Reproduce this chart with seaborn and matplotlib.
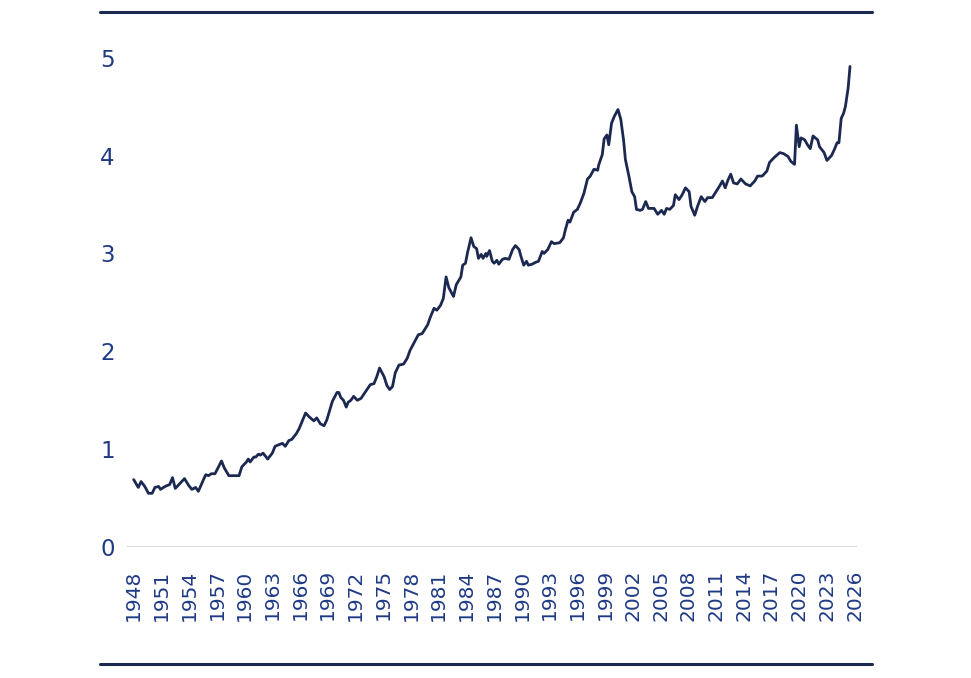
import matplotlib
matplotlib.use("Agg")
import matplotlib.pyplot as plt
import seaborn as sns
import pandas as pd
from matplotlib.lines import Line2D

sns.set_style("white")
plt.rcParams['font.family'] = ['DejaVu Sans']

# values (year, value)
years = [
    1948.0, 1948.5, 1948.8, 1949.2, 1949.6, 1950.0, 1950.3, 1950.7, 1950.9, 1951.4,
    1951.9, 1952.2, 1952.5, 1953.1, 1953.5, 1953.95, 1954.3, 1954.7, 1955.0, 1955.6,
    1955.8, 1956.1, 1956.4, 1956.8, 1957.5, 1957.8, 1958.3, 1959.0, 1959.4, 1959.7,
    1960.2, 1960.4, 1960.6, 1961.0, 1961.2, 1961.5, 1961.7, 1962.0, 1962.5, 1963.0,
    1963.3, 1963.8, 1964.1, 1964.4, 1964.8, 1965.1, 1965.6, 1965.9, 1966.3, 1966.6,
    1967.0, 1967.5, 1967.8, 1968.2, 1968.6, 1968.9, 1969.5, 1970.0, 1970.2, 1970.4,
    1970.7, 1971.0, 1971.2, 1971.5, 1971.8, 1972.2, 1972.6, 1973.1, 1973.6, 1974.0,
    1974.3, 1974.6, 1975.1, 1975.4, 1975.7, 1976.0, 1976.3, 1976.7, 1977.2, 1977.6,
    1977.9, 1978.4, 1978.8, 1979.2, 1979.8, 1980.1, 1980.5, 1980.8, 1981.2, 1981.5,
    1981.8, 1982.1, 1982.6, 1982.9, 1983.4, 1983.6, 1983.9, 1984.1, 1984.5, 1984.8,
    1985.1, 1985.3, 1985.6, 1985.8, 1986.1, 1986.2, 1986.5, 1986.8, 1987.0, 1987.3,
    1987.5, 1987.9, 1988.2, 1988.6, 1989.0, 1989.3, 1989.7, 1989.9, 1990.2, 1990.5,
    1990.7, 1991.1, 1991.5, 1991.8, 1992.2, 1992.4, 1992.8, 1993.2, 1993.5, 1994.1,
    1994.5, 1994.7, 1995.0, 1995.2, 1995.6, 1996.0, 1996.3, 1996.7, 1997.1, 1997.4,
    1997.8, 1998.2, 1998.3, 1998.7, 1998.9, 1999.2, 1999.4, 1999.7, 2000.0, 2000.4,
    2000.7, 2001.0, 2001.2, 2001.6, 2001.9, 2002.2, 2002.4, 2002.8, 2003.05, 2003.4,
    2003.7, 2004.3, 2004.7, 2005.1, 2005.4, 2005.65, 2006.0, 2006.4, 2006.6, 2007.0,
    2007.35, 2007.7, 2008.1, 2008.3, 2008.7, 2009.0, 2009.4, 2009.8, 2010.1, 2010.6,
    2011.0, 2011.4, 2011.7, 2012.0, 2012.3, 2012.6, 2012.9, 2013.3, 2013.7, 2014.2,
    2014.7, 2015.2, 2015.5, 2016.0, 2016.5, 2016.8, 2017.3, 2017.9, 2018.3, 2018.8,
    2019.1, 2019.5, 2019.7, 2020.0, 2020.2, 2020.6, 2020.9, 2021.2, 2021.5, 2022.0,
    2022.2, 2022.7, 2023.0, 2023.5, 2023.8, 2024.1, 2024.3, 2024.55, 2024.8, 2025.0,
    2025.3, 2025.5,
]
values = [
    0.69, 0.61, 0.67, 0.62, 0.55, 0.55, 0.61, 0.62, 0.59, 0.62,
    0.64, 0.71, 0.60, 0.66, 0.70, 0.63, 0.59, 0.61, 0.57, 0.70,
    0.74, 0.73, 0.75, 0.75, 0.88, 0.81, 0.73, 0.73, 0.73, 0.82,
    0.87, 0.90, 0.87, 0.92, 0.92, 0.95, 0.94, 0.96, 0.90, 0.96,
    1.03, 1.05, 1.06, 1.03, 1.09, 1.10, 1.16, 1.21, 1.30, 1.37,
    1.33, 1.29, 1.32, 1.26, 1.24, 1.30, 1.49, 1.58, 1.58, 1.53,
    1.50, 1.43, 1.48, 1.50, 1.54, 1.50, 1.52, 1.59, 1.66, 1.67,
    1.74, 1.83, 1.74, 1.65, 1.61, 1.64, 1.78, 1.86, 1.87, 1.93,
    2.01, 2.10, 2.17, 2.18, 2.27, 2.35, 2.44, 2.42, 2.47, 2.54,
    2.76, 2.65, 2.56, 2.68, 2.76, 2.88, 2.90, 3.00, 3.16, 3.07,
    3.05, 2.95, 2.99, 2.95, 3.00, 2.97, 3.03, 2.92, 2.90, 2.93,
    2.89, 2.94, 2.95, 2.94, 3.04, 3.08, 3.04, 2.97, 2.88, 2.92,
    2.88, 2.89, 2.91, 2.92, 3.02, 3.00, 3.04, 3.12, 3.10, 3.11,
    3.16, 3.24, 3.34, 3.32, 3.42, 3.45, 3.51, 3.61, 3.76, 3.79,
    3.86, 3.85, 3.90, 4.01, 4.17, 4.21, 4.11, 4.33, 4.40, 4.47,
    4.37, 4.16, 3.96, 3.78, 3.63, 3.58, 3.45, 3.44, 3.45, 3.53,
    3.46, 3.46, 3.40, 3.44, 3.40, 3.46, 3.45, 3.49, 3.60, 3.55,
    3.60, 3.67, 3.63, 3.48, 3.39, 3.48, 3.58, 3.53, 3.57, 3.57,
    3.63, 3.69, 3.74, 3.67, 3.75, 3.81, 3.72, 3.71, 3.76, 3.71,
    3.69, 3.74, 3.79, 3.79, 3.84, 3.93, 3.98, 4.03, 4.02, 3.99,
    3.94, 3.91, 4.31, 4.09, 4.18, 4.16, 4.11, 4.07, 4.20, 4.16,
    4.09, 4.03, 3.95, 4.00, 4.06, 4.13, 4.13, 4.38, 4.43, 4.50,
    4.69, 4.91,
]
tick_years = list(range(1948, 2027, 3))
y_ticks = [0, 1, 2, 3, 4, 5]

navy = '#1b2850'
label_blue = '#1f3a85'

df = pd.DataFrame({'year': years, 'value': values})

fig = plt.figure(figsize=(9.71, 6.78), dpi=100)
ax = fig.add_axes([0.131, 0.193, 0.752, 0.722])

sns.lineplot(data=df, x='year', y='value', ax=ax, color=navy, linewidth=2.0)

ax.axhline(0, color='#d4d4d4', linewidth=1.2, zorder=0)

ax.set_xlim(1947.3, 2026.3)
ax.set_ylim(0, 5)
ax.set_xticks(tick_years)
ax.set_xticklabels([str(y) for y in tick_years], rotation=90)
ax.set_yticks(y_ticks)
ax.tick_params(axis='x', length=0, pad=16, labelsize=14.5, labelcolor=label_blue)
ax.tick_params(axis='y', length=0, pad=9, labelsize=16.5, labelcolor=label_blue)
ax.set_xlabel('')
ax.set_ylabel('')
sns.despine(ax=ax, left=True, bottom=True)

# top and bottom rules
fig.add_artist(Line2D([100 / 971, 872 / 971], [1 - 12 / 678, 1 - 12 / 678],
                      color=navy, linewidth=2.2, transform=fig.transFigure))
fig.add_artist(Line2D([100 / 971, 872 / 971], [1 - 664 / 678, 1 - 664 / 678],
                      color=navy, linewidth=2.2, transform=fig.transFigure))

fig.savefig('out.png', dpi=100)
